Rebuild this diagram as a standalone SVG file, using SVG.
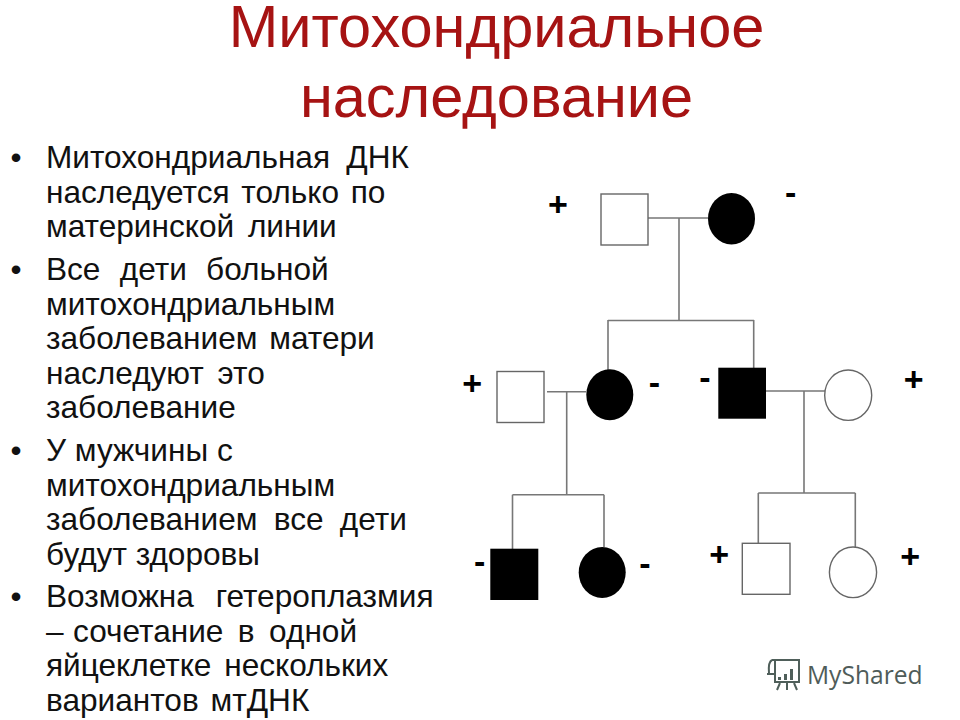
<svg xmlns="http://www.w3.org/2000/svg" width="960" height="720" viewBox="0 0 960 720">
<style>
.t{font-family:"Liberation Sans",Arial,sans-serif}
.title{font-size:59.500px;fill:#a61313;text-anchor:middle}
.b{font-size:31.600px;fill:#111}
.s{font-size:34px;font-weight:bold;fill:#000;text-anchor:middle}
.w{fill:#fff;stroke:#666;stroke-width:1.400}
.k{fill:#000}
#connectors path{fill:none;stroke:#777;stroke-width:1.600}
</style>
<rect width="960" height="720" fill="#fff"/>
<g id="title" class="t"><text class="title" x="496.500" y="47">Митохондриальное</text><text class="title" x="496.500" y="117">наследование</text></g>
<g id="bullets" class="t b">
<text x="10.500" y="167.500">•</text><text x="46" y="167.500" word-spacing="7.500">Митохондриальная ДНК</text>
<text x="46" y="202.500" word-spacing="3">наследуется только по</text>
<text x="46" y="236.500" word-spacing="5">материнской линии</text>
<text x="10.500" y="279.500">•</text><text x="46" y="279.500" word-spacing="10.500">Все дети больной</text>
<text x="46" y="314.500">митохондриальным</text>
<text x="46" y="348.500" word-spacing="3">заболеванием матери</text>
<text x="46" y="383.500" word-spacing="5">наследуют это</text>
<text x="46" y="417.500">заболевание</text>
<text x="10.500" y="460.500">•</text><text x="46" y="460.500">У мужчины с</text>
<text x="46" y="495.500">митохондриальным</text>
<text x="46" y="529.500" word-spacing="7.500">заболеванием все дети</text>
<text x="46" y="564.500">будут здоровы</text>
<text x="10.500" y="606.500">•</text><text x="46" y="606.500" word-spacing="13">Возможна гетероплазмия</text>
<text x="46" y="641.500">–</text><text x="73" y="641.500" word-spacing="5.700">сочетание в одной</text>
<text x="46" y="675.500" word-spacing="4">яйцеклетке нескольких</text>
<text x="46" y="710.500" word-spacing="3">вариантов мтДНК</text>
</g>
<g id="connectors">
<path d="M648 218H708M679 218V321M608 320.500H754M608 320V370M753.700 320V368"/>
<path d="M547 391.700H586M566.700 391.700V494.700M512.500 494.700H604M512.500 494.700V549M604 494.700V547"/>
<path d="M766 391H825M804 391V493M758.300 493H855.300M758.300 493V544M855.300 493V547"/>
</g>
<g id="n1"><rect class="w" x="601" y="194" width="47" height="51"/><text class="t s" x="558" y="216">+</text></g>
<g id="n2"><ellipse class="k" cx="731.500" cy="218.700" rx="23.500" ry="25.700"/><text class="t s" x="790.700" y="204">-</text></g>
<g id="n3"><rect class="w" x="497" y="371.500" width="47" height="51"/><text class="t s" x="472.300" y="395">+</text></g>
<g id="n4"><ellipse class="k" cx="609.800" cy="394.700" rx="23.500" ry="25.500"/><text class="t s" x="654.300" y="394">-</text></g>
<g id="n5"><rect class="k" x="718.300" y="367.700" width="47.700" height="51"/><text class="t s" x="705" y="389">-</text></g>
<g id="n6"><ellipse class="w" cx="848.200" cy="395.200" rx="23.500" ry="25.200"/><text class="t s" x="913.700" y="391">+</text></g>
<g id="n7"><rect class="k" x="490.300" y="548.700" width="48" height="51.300"/><text class="t s" x="479.700" y="573">-</text></g>
<g id="n8"><ellipse class="k" cx="602.200" cy="572.500" rx="23.500" ry="25.500"/><text class="t s" x="645" y="575">-</text></g>
<g id="n9"><rect class="w" x="742.300" y="543.300" width="47.700" height="51"/><text class="t s" x="719.300" y="566">+</text></g>
<g id="n10"><ellipse class="w" cx="853" cy="572.300" rx="23.600" ry="25.300"/><text class="t s" x="910.300" y="568">+</text></g>
<g id="logo">
<g fill="none" stroke="#4f5f5a" stroke-width="2"><path d="M772 660H800M775 660V682H799V660M767 674H775M772 660Q768 662 769 673M780 683L777 690M794 683L797 690M787 683V690"/></g>
<path fill="#4f5f5a" d="M778 677h3v3h-3zM784 674h3v6h-3zM790 669h3v11h-3z"/>
<text x="807" y="684" font-size="24.600" fill="#4f5c59" style="font-family:'Open Sans',sans-serif">MyShared</text>
</g>
</svg>
